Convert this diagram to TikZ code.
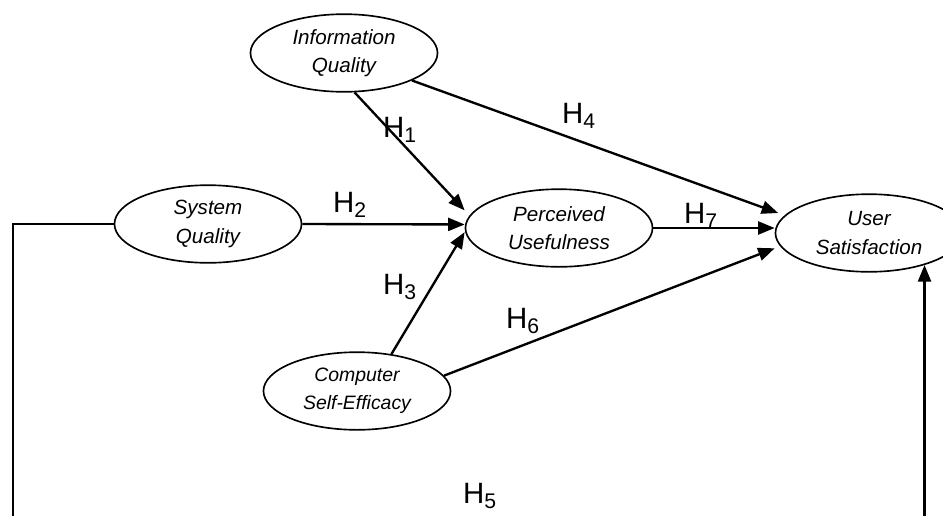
\documentclass[tikz,border=0pt]{standalone}
\usepackage{fontspec}
\setmainfont{Liberation Sans}
\usetikzlibrary{shapes.geometric,arrows.meta}

\tikzset{
  construct/.style={ellipse, draw, line width=1.4pt, minimum width=159pt,
    minimum height=66pt, inner sep=0pt, align=center,
    font=\fontsize{17.5}{24}\selectfont\itshape},
  path/.style={line width=2pt, -{Triangle[length=14pt,width=11pt]}},
  hyp/.style={anchor=base west, inner sep=0pt, font=\fontsize{25}{30}\selectfont}
}
\newcommand{\hlabel}[1]{H\raisebox{-4.5pt}{\fontsize{18}{18}\selectfont #1}}

\begin{document}
\begin{tikzpicture}[x=0.85pt, y=-0.85pt]
    \useasboundingbox (0,0) rectangle (943,515);
    \clip (0,0) rectangle (943,515);

    % Constructs
    \node[construct] (IQ) at (344, 53) {Information\\Quality};
    \node[construct] (SQ) at (208, 224) {System\\Quality};
    \node[construct] (PU) at (559, 228) {Perceived\\Usefulness};
    \node[construct] (US) at (869, 233) {User\\Satisfaction};
    \node[construct, font=\fontsize{16.5}{24}\selectfont\itshape] (CSE) at (357, 391) {Computer\\Self-Efficacy};

    % Corners of the H5 path below the picture
    \coordinate (bl) at (13, 540);
    \coordinate (br) at (bl -| US.-30);

    % Paths
    \draw[path] (IQ.-75) -- ([yshift=15pt]PU.west);
    \draw[path] (SQ.east) -- ([yshift=3pt]PU.west);
    \draw[path] (CSE.47) -- ([yshift=-3.5pt]PU.west);
    \draw[path] (IQ.-22) -- ([xshift=3pt,yshift=17pt]US.west);
    \draw[path] (PU.east) -- (PU.east -| US.west);
    \draw[path] (CSE.10) -- ([yshift=-13pt]US.west);
    \draw[line width=1.4pt] (SQ.west) -| (bl) -- (br);
    \draw[path] (br) -- (US.-30);

    % Hypotheses
    \node[hyp] (h1) at (383, 137) {\hlabel{1}};
    \node[hyp] (h2) at (333, 212) {\hlabel{2}};
    \node[hyp] (h3) at (383, 294) {\hlabel{3}};
    \node[hyp] (h4) at (562, 123) {\hlabel{4}};
    \node[hyp] (h5) at (463, 503) {\hlabel{5}};
    \node[hyp] (h6) at (506, 328) {\hlabel{6}};
    \node[hyp] (h7) at (684, 223) {\hlabel{7}};
\end{tikzpicture}
\end{document}
